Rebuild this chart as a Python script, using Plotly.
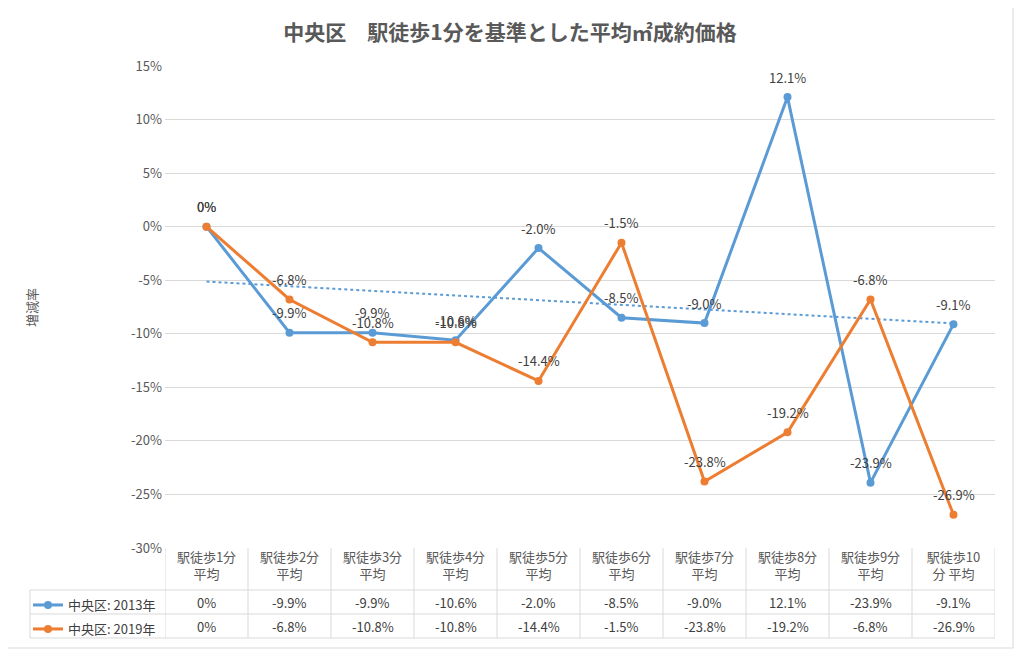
import numpy as np
import plotly.graph_objects as go

# ---------------- data ----------------
categories = ["駅徒歩1分<br>平均", "駅徒歩2分<br>平均", "駅徒歩3分<br>平均", "駅徒歩4分<br>平均",
              "駅徒歩5分<br>平均", "駅徒歩6分<br>平均", "駅徒歩7分<br>平均", "駅徒歩8分<br>平均",
              "駅徒歩9分<br>平均", "駅徒歩10<br>分 平均"]
series_2013 = [0.0, -9.9, -9.9, -10.6, -2.0, -8.5, -9.0, 12.1, -23.9, -9.1]
series_2019 = [0.0, -6.8, -10.8, -10.8, -14.4, -1.5, -23.8, -19.2, -6.8, -26.9]
name_2013 = "中央区: 2013年"
name_2019 = "中央区: 2019年"
title_text = "中央区　駅徒歩1分を基準とした平均㎡成約価格"
y_title = "増減率"
y_ticks = [15, 10, 5, 0, -5, -10, -15, -20, -25, -30]
y_ticktext = [f"{v}%" for v in y_ticks]

BLUE = "#5B9BD5"
ORANGE = "#ED7D31"
GRID = "#d9d9d9"
TXT = "#595959"
LBL = "#404040"
FONT = "Noto Sans CJK JP"

OFF = 8  # page body margin
W, H = 1024 - 2 * OFF, 658 - 2 * OFF
L, R, T, B = 165 - OFF, 995 - OFF, 66 - OFF, 548 - OFF  # plot area in px (figure coords)


def px_x(x):
    return (x - OFF - L) / (R - L)


def px_y(y):
    return (B - (y - OFF)) / (B - T)


def lab(v):
    return "0%" if v == 0 else f"{v:.1f}%"


idx = np.arange(len(categories))
slope, intercept = np.polyfit(idx + 1, series_2013, 1)
trend = slope * (idx + 1) + intercept

fig = go.Figure()
fig.add_trace(go.Scatter(
    x=categories, y=trend, mode="lines", showlegend=False, hoverinfo="skip",
    line=dict(color=BLUE, width=2, dash="dot")))
fig.add_trace(go.Scatter(
    x=categories, y=series_2013, name=name_2013, mode="lines+markers",
    line=dict(color=BLUE, width=3), marker=dict(size=8, color=BLUE), legend="legend"))
fig.add_trace(go.Scatter(
    x=categories, y=series_2019, name=name_2019, mode="lines+markers",
    line=dict(color=ORANGE, width=3), marker=dict(size=8, color=ORANGE), legend="legend2"))

annotations = []
# data labels above the points
for series in [series_2013, series_2019]:
    for c, v in zip(categories, series):
        annotations.append(dict(x=c, y=v, xref="x", yref="y", text=lab(v), showarrow=False,
                                xanchor="center", yanchor="middle", yshift=20,
                                font=dict(size=13, color=LBL, family=FONT)))

# ---------------- data table ----------------
rows_px = [590, 614, 638]
row_centers = [602, 626]
shapes = []
line_style = dict(color=GRID, width=1)
for i in range(len(categories) + 1):
    shapes.append(dict(type="line", xref="x", yref="paper", x0=i - 0.5, x1=i - 0.5,
                       y0=0, y1=px_y(rows_px[-1]), line=line_style))
for yp in rows_px:
    shapes.append(dict(type="line", xref="paper", yref="paper", x0=px_x(30), x1=1,
                       y0=px_y(yp), y1=px_y(yp), line=line_style))
shapes.append(dict(type="line", xref="paper", yref="paper", x0=px_x(30), x1=px_x(30),
                   y0=px_y(rows_px[0]), y1=px_y(rows_px[-1]), line=line_style))
# outer chart border
shapes.append(dict(type="rect", xref="paper", yref="paper", x0=px_x(4), x1=px_x(1013),
                   y0=px_y(5), y1=px_y(648), line=dict(color=GRID, width=1)))

for rc, series in zip(row_centers, [series_2013, series_2019]):
    for c, v in zip(categories, series):
        annotations.append(dict(x=c, xref="x", y=px_y(rc), yref="paper", text=lab(v),
                                showarrow=False, font=dict(size=13, color=LBL, family=FONT),
                                xanchor="center", yanchor="middle"))
annotations.append(dict(x=px_x(31), y=px_y(308), xref="paper", yref="paper", text=y_title,
                        textangle=-90, showarrow=False, xanchor="center", yanchor="middle",
                        font=dict(size=13, color=TXT, family=FONT)))

fig.update_layout(
    width=W, height=H,
    margin=dict(l=L, r=W - R, t=T, b=H - B, autoexpand=False),
    paper_bgcolor="white", plot_bgcolor="white",
    font=dict(family=FONT, color=TXT),
    title=dict(text=f"<b>{title_text}</b>", x=(510 - OFF) / W, xanchor="center",
               y=1 - (33 - OFF) / H, yanchor="middle", xref="container", yref="container",
               font=dict(size=21, color=TXT, family=FONT)),
    xaxis=dict(type="category", showgrid=False, showline=False, zeroline=False,
               tickfont=dict(size=13, color=TXT), ticks="", range=[-0.5, 9.5]),
    yaxis=dict(range=[-30, 15], tickvals=y_ticks, ticktext=y_ticktext, showgrid=True,
               gridcolor=GRID, zeroline=False, showline=False,
               tickfont=dict(size=13, color=TXT), ticks="", ticklabelstandoff=2),
    legend=dict(x=px_x(28), y=px_y(rows_px[0]), xanchor="left", yanchor="top",
                font=dict(size=13, color=LBL), bgcolor="rgba(0,0,0,0)", borderwidth=0),
    legend2=dict(x=px_x(28), y=px_y(rows_px[1]), xanchor="left", yanchor="top",
                 font=dict(size=13, color=LBL), bgcolor="rgba(0,0,0,0)", borderwidth=0),
    shapes=shapes, annotations=annotations,
)

fig.write_html("out.html")
